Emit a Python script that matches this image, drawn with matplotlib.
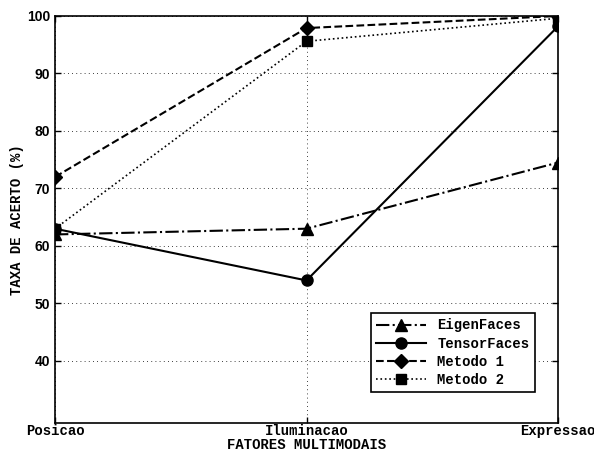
import matplotlib
matplotlib.use("Agg")
import matplotlib.pyplot as plt

categories = ["Posicao", "Iluminacao", "Expressao"]
eigen = [62.0, 63.0, 74.5]
tensor = [63.0, 54.0, 98.2]
metodo1 = [72.0, 97.9, 100.0]
metodo2 = [63.0, 95.6, 99.6]
yticks = [40, 50, 60, 70, 80, 90, 100]

mono = "Liberation Mono"
fig = plt.figure(figsize=(5.94, 4.53), dpi=100)
ax = fig.add_axes([0.0926, 0.0662, 0.8468, 0.8985])
x = [1, 2, 3]
ax.plot(x, eigen, linestyle="-.", color="black", lw=1.5, marker="^", ms=9, label="EigenFaces")
ax.plot(x, tensor, linestyle="-", color="black", lw=1.5, marker="o", ms=8, label="TensorFaces")
ax.plot(x, metodo1, linestyle="--", color="black", lw=1.5, marker="D", ms=7, label="Metodo 1")
ax.plot(x, metodo2, linestyle=":", color="black", lw=1.2, marker="s", ms=7, label="Metodo 2")

ax.set_xlim(1, 3)
ax.set_ylim(29.2, 100)
ax.set_xticks(x)
ax.set_xticklabels(categories, fontfamily=mono, fontweight="bold", fontsize=10)
ax.set_yticks(yticks)
ax.set_yticklabels([str(v) for v in yticks], fontfamily="Liberation Sans", fontweight="bold", fontsize=10)
ax.tick_params(direction="in", top=True, right=True, length=4, width=1)
ax.tick_params(axis="x", pad=1)
ax.grid(True, linestyle=(0, (1, 4)), color="black", lw=0.6)
for s in ax.spines.values():
    s.set_linewidth(1.2)
ax.set_xlabel("FATORES MULTIMODAIS", fontfamily=mono, fontweight="bold", fontsize=10, labelpad=-0.5)
ax.set_ylabel("TAXA DE ACERTO (%)", fontfamily=mono, fontweight="bold", fontsize=10, labelpad=2)

leg = ax.legend(loc="lower right", bbox_to_anchor=(0.968, 0.058),
                prop={"family": mono, "weight": "bold", "size": 10},
                fancybox=False, edgecolor="black", framealpha=1,
                handlelength=3.6, borderpad=0.4, labelspacing=0.3)
leg.get_frame().set_linewidth(1.2)

fig.savefig("out.png", dpi=100)
